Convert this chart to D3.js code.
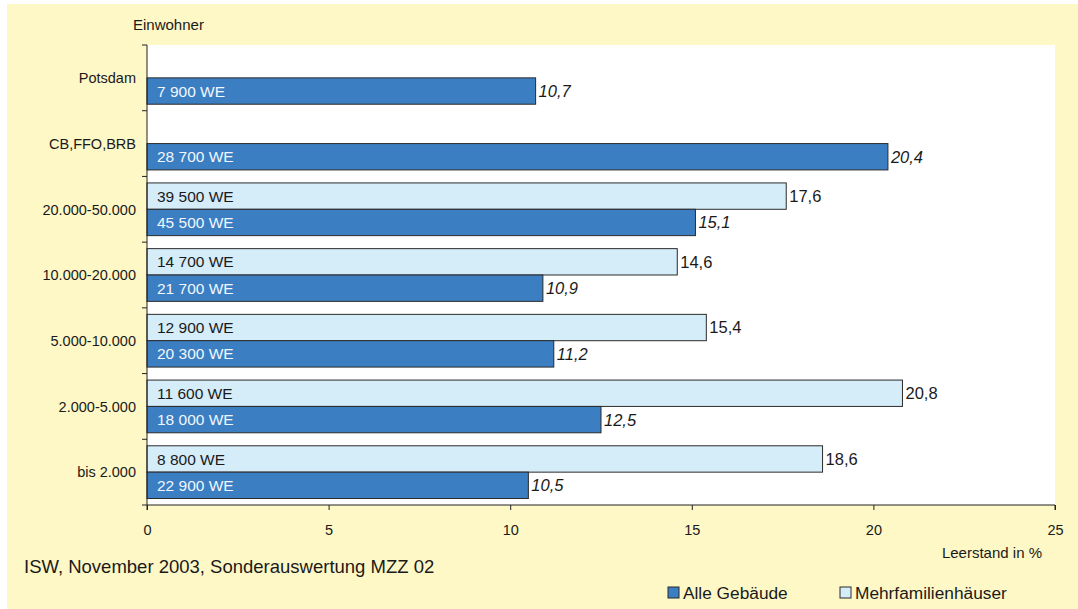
<!DOCTYPE html>
<html>
<head>
<meta charset="utf-8">
<script src="https://cdn.jsdelivr.net/npm/d3@7"></script>
<style>
  body { margin: 0; background: #fff; }
  svg { display: block; font-family: "Liberation Sans", Arial, sans-serif; }
</style>
</head>
<body>
<div id="chart"></div>
<script>
// categories top to bottom
const categories = ["Potsdam", "CB,FFO,BRB", "20.000-50.000", "10.000-20.000", "5.000-10.000", "2.000-5.000", "bis 2.000"];
// Leerstand in % - Alle Gebäude
const alleValues = [10.7, 20.4, 15.1, 10.9, 11.2, 12.5, 10.5];
const alleWE = ["7 900 WE", "28 700 WE", "45 500 WE", "21 700 WE", "20 300 WE", "18 000 WE", "22 900 WE"];
// Leerstand in % - Mehrfamilienhäuser (none for Potsdam and CB,FFO,BRB)
const mfhValues = [null, null, 17.6, 14.6, 15.4, 20.8, 18.6];
const mfhWE = [null, null, "39 500 WE", "14 700 WE", "12 900 WE", "11 600 WE", "8 800 WE"];
const xTicks = [0, 5, 10, 15, 20, 25];
const seriesNames = ["Alle Gebäude", "Mehrfamilienhäuser"];

const width = 1078, height = 609;
const margins = {top: 45, right: 23, bottom: 104, left: 147};
const colors = {alle: "#3b7fc2", mfh: "#d5ecf9", cream: "#fef7c6", stroke: "#2a2a2a"};

const svg = d3.select("#chart")
    .append("svg")
    .attr("width", width)
    .attr("height", height);

// cream background and white plot area
svg.append("rect")
    .attr("x", 7).attr("y", 4)
    .attr("width", width - 7).attr("height", height - 4)
    .attr("fill", colors.cream);

const xScale = d3.scaleLinear()
    .domain([0, 25])
    .range([margins.left, width - margins.right]);
const yScale = d3.scaleBand()
    .domain(categories)
    .range([margins.top, height - margins.bottom]);
// sub band: Mehrfamilienhäuser on top, Alle Gebäude below
const ySub = d3.scaleBand()
    .domain(["mfh", "alle"])
    .range([6.5, yScale.bandwidth() - 6.5]);

svg.append("rect")
    .attr("x", margins.left).attr("y", margins.top)
    .attr("width", xScale(25) - margins.left)
    .attr("height", height - margins.bottom - margins.top)
    .attr("fill", "#fff");

// build rows from the arrays
const rows = [];
categories.forEach((c, i) => {
    if (mfhValues[i] != null) rows.push({cat: c, key: "mfh", value: mfhValues[i], we: mfhWE[i]});
    rows.push({cat: c, key: "alle", value: alleValues[i], we: alleWE[i]});
});

const bars = svg.append("g")
    .selectAll("g")
    .data(rows)
    .join("g")
    .attr("transform", d => `translate(0,${yScale(d.cat) + ySub(d.key)})`);

bars.append("rect")
    .attr("x", xScale(0))
    .attr("y", 0)
    .attr("width", d => xScale(d.value) - xScale(0))
    .attr("height", ySub.bandwidth())
    .attr("fill", d => d.key == "alle" ? colors.alle : colors.mfh)
    .attr("stroke", colors.stroke)
    .attr("stroke-width", 1);

// WE label inside bar
bars.append("text")
    .attr("x", xScale(0) + 10)
    .attr("y", ySub.bandwidth() / 2)
    .attr("dy", "0.36em")
    .style("font-size", "15.5px")
    .attr("fill", d => d.key == "alle" ? "#f2f6ff" : "#1a1a1a")
    .text(d => d.we);

// value label right of bar
bars.append("text")
    .attr("x", d => xScale(d.value) + 3)
    .attr("y", ySub.bandwidth() / 2)
    .attr("dy", "0.36em")
    .style("font-size", "16.5px")
    .style("font-style", d => d.key == "alle" ? "italic" : "normal")
    .attr("fill", "#1a1a1a")
    .text(d => d3.format(".1f")(d.value).replace(".", ","));

// x axis
const xAxis = d3.axisBottom(xScale)
    .tickValues(xTicks)
    .tickSize(5)
    .tickFormat(d => d);
const xGroup = svg.append("g")
    .attr("transform", `translate(0,${height - margins.bottom})`)
    .call(xAxis);
xGroup.select(".domain").attr("stroke", "#222").attr("d", `M${xScale(0)},5V0H${xScale(25)}V5`);
xGroup.selectAll(".tick line").attr("stroke", "#222");
xGroup.selectAll("text")
    .attr("y", 20)
    .style("font-size", "14.5px")
    .attr("fill", "#1a1a1a");

// y axis with ticks at category boundaries
const yGroup = svg.append("g")
    .attr("transform", `translate(${margins.left},0)`);
yGroup.append("line")
    .attr("x1", 0).attr("x2", 0)
    .attr("y1", margins.top).attr("y2", height - margins.bottom)
    .attr("stroke", "#222");
const bounds = categories.map(c => yScale(c)).concat([height - margins.bottom]);
yGroup.selectAll("line.tick")
    .data(bounds)
    .join("line")
    .attr("class", "tick")
    .attr("x1", -5).attr("x2", 0)
    .attr("y1", d => d).attr("y2", d => d)
    .attr("stroke", "#222");
yGroup.selectAll("text")
    .data(categories)
    .join("text")
    .attr("x", -11)
    .attr("y", d => yScale(d) + yScale.bandwidth() / 2)
    .attr("dy", "0.36em")
    .attr("text-anchor", "end")
    .style("font-size", "14.5px")
    .attr("fill", "#1a1a1a")
    .text(d => d);

// axis titles
svg.append("text")
    .attr("x", 133).attr("y", 30)
    .style("font-size", "15px")
    .attr("fill", "#1a1a1a")
    .text("Einwohner");
svg.append("text")
    .attr("x", 1042).attr("y", 558)
    .attr("text-anchor", "end")
    .style("font-size", "15px")
    .attr("fill", "#1a1a1a")
    .text("Leerstand in %");

// source
svg.append("text")
    .attr("x", 24).attr("y", 573)
    .style("font-size", "18.5px")
    .attr("fill", "#1a1a1a")
    .text("ISW, November 2003, Sonderauswertung MZZ 02");

// legend
const legend = svg.append("g")
    .selectAll("g")
    .data(seriesNames)
    .join("g")
    .attr("transform", (d, i) => `translate(${i == 0 ? 668 : 840},587)`);
legend.append("rect")
    .attr("width", 11).attr("height", 11)
    .attr("fill", (d, i) => i == 0 ? colors.alle : colors.mfh)
    .attr("stroke", colors.stroke);
legend.append("text")
    .attr("x", 15).attr("y", 6)
    .attr("dy", "0.36em")
    .style("font-size", "17.3px")
    .attr("fill", "#1a1a1a")
    .text(d => d);
</script>
</body>
</html>
